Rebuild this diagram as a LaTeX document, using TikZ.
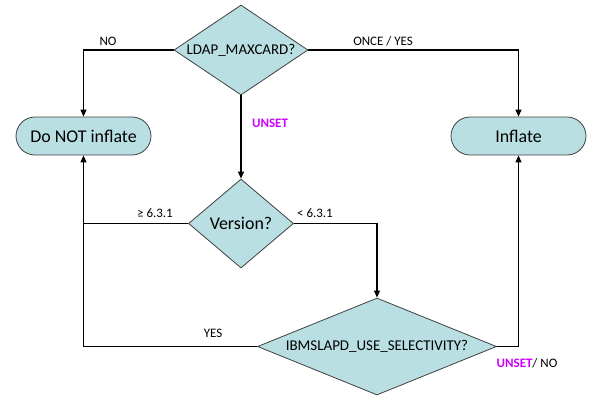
\documentclass[tikz,border=0pt]{standalone}
\usepackage{fontspec}
\setmainfont{Carlito}
\usetikzlibrary{shapes.geometric,arrows.meta}
\definecolor{boxfill}{RGB}{185,223,227}
\definecolor{boxline}{RGB}{64,64,64}
\definecolor{unsetcol}{RGB}{204,0,255}

\begin{document}
\begin{tikzpicture}[x=1bp,y=-1bp,
	decision/.style={diamond,draw=boxline,fill=boxfill,line width=0.8bp,inner sep=0pt},
	endbox/.style={rectangle,rounded corners=19bp,draw=boxline,fill=boxfill,line width=0.8bp,
		minimum width=135bp,minimum height=38bp,inner sep=0pt,font=\fontsize{18}{21}\selectfont},
	flow/.style={line width=1.2bp,-{Triangle[length=7bp,width=6bp]}},
	plain/.style={line width=1.2bp},
	lbl/.style={font=\fontsize{13}{15}\selectfont}]
	\useasboundingbox (0,0) rectangle (600,409);
	% decisions
	\node[decision,aspect=1.49,minimum width=134bp,minimum height=90bp,font=\fontsize{15}{17}\selectfont] (ldap) at (241,50) {LDAP\_MAXCARD?};
	\node[decision,aspect=1.18,minimum width=105bp,minimum height=89bp,font=\fontsize{18}{21}\selectfont] (ver) at (241,223.5) {Version?};
	\node[decision,aspect=2.46,minimum width=239bp,minimum height=97bp,font=\fontsize{15}{17}\selectfont] (sel) at (377,346.5) {IBMSLAPD\_USE\_SELECTIVITY?};
	% results
	\node[endbox] (noinf) at (83.5,136) {Do NOT inflate};
	\node[endbox] (inf) at (518.5,136) {Inflate};
	% connectors
	\draw[flow] (ldap.west) -| (noinf.north);
	\draw[flow] (ldap.east) -| (inf.north);
	\draw[flow] (ldap.south) -- (ver.north);
	\draw[plain] (ver.west) -- (ver.west -| noinf.south);
	\draw[flow] (ver.east) -| (sel.north);
	\draw[flow] (sel.west) -| (noinf.south);
	\draw[flow] (sel.east) -| (inf.south);
	% labels
	\node[lbl] (lno) at (108,41) {NO};
	\node[lbl,text=unsetcol,font=\fontsize{13}{15}\selectfont\bfseries] (lunset) at (270,123) {UNSET};
	\node[lbl] (lonce) at (383,41) {ONCE / YES};
	\node[lbl] (lge) at (155,213) {≥ 6.3.1};
	\node[lbl] (llt) at (315,213) {< 6.3.1};
	\node[lbl] (lyes) at (213,333) {YES};
	\node[lbl] (lunno) at (527,363) {\textcolor{unsetcol}{\bfseries UNSET}/ NO};
\end{tikzpicture}
\end{document}
